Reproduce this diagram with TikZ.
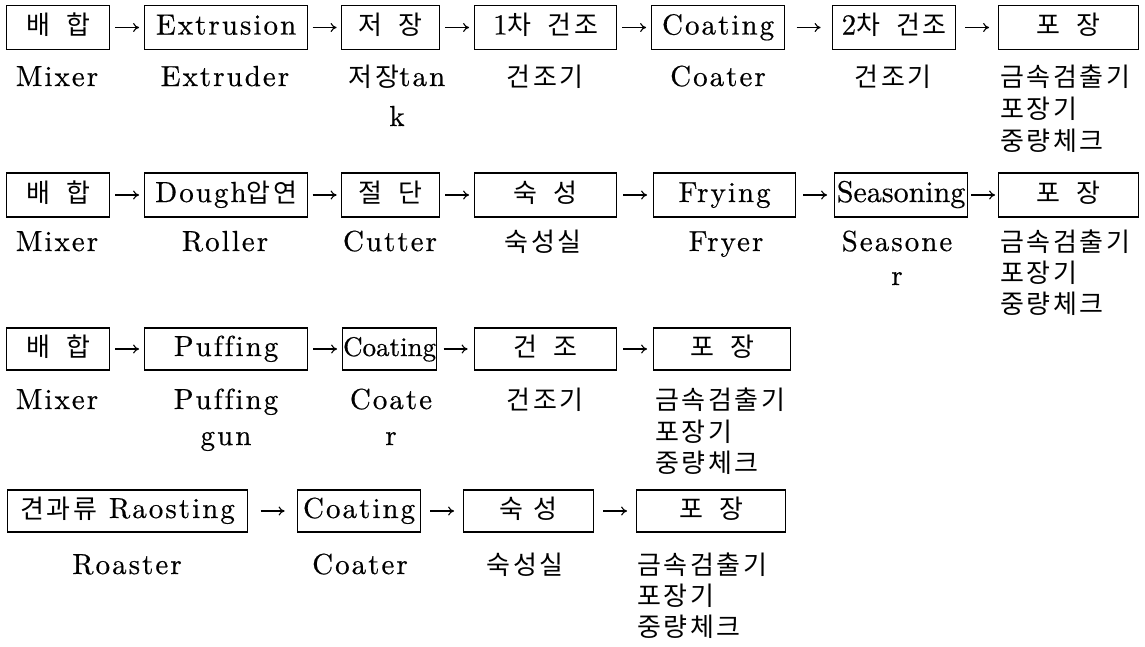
\documentclass[tikz,border=0pt]{standalone}
\usepackage{fontspec}
\usepackage{graphicx}
\usetikzlibrary{arrows.meta,calc}
\newfontfamily\kr{Noto Sans CJK KR}[LetterSpace=10]
\newfontfamily\latn{lmroman10-regular.otf}[LetterSpace=7,Ligatures=NoCommon,FakeBold=0.5]
\newfontfamily\latc{lmroman10-regular.otf}[Ligatures=NoCommon,FakeBold=0.5]
\newcommand\latf{\latn\fontsize{29}{33}\selectfont}
\newcommand\plainf{\fontsize{26}{30}\selectfont}
\newcommand\ksp{\hspace{16pt}}
\begin{document}
\begin{tikzpicture}[x=1pt,y=-1pt,
  box/.style={draw, line width=1.2pt, inner sep=0pt, anchor=west, minimum height=44pt, text height=20pt, text depth=6pt, font=\latf},
  lbl/.style={anchor=base, inner sep=0pt, font=\latf},
  lst/.style={anchor=base west, inner sep=0pt, font=\kr\plainf},
  arr/.style={-{To[length=6pt,width=9pt]}, line width=1.1pt},
  flow/.style={to path={($(\tikztostart)!0.5!(\tikztotarget)+(-12pt,0)$) -- ($(\tikztostart)!0.5!(\tikztotarget)+(12pt,0)$)}}
]
\useasboundingbox (0,0) rectangle (1145,646);

% ---------- Row 1 ----------
\node[box, minimum width=103pt] (a1) at (6,27.5) {\kr\plainf 배\ksp 합};
\node[box, minimum width=163pt] (a2) at (144,27.5) {Extrusion};
\node[box, minimum width=98pt]  (a3) at (341,27.5) {\kr\plainf 저\ksp 장};
\node[box, minimum width=142pt] (a4) at (474,27.5) {1{\kr\plainf 차\ksp 건조}};
\node[box, minimum width=133pt] (a5) at (651,27.5) {Coating};
\node[box, minimum width=123pt] (a6) at (832,27.5) {2{\kr\plainf 차\ksp 건조}};
\node[box, minimum width=140pt] (a7) at (998,27.5) {\kr\plainf 포\ksp 장};
\foreach \p/\q in {a1/a2,a2/a3,a3/a4,a4/a5,a5/a6,a6/a7}
  \draw[arr] (\p.east) to[flow] (\q.west);

\node[lbl] (la1) at (57,86) {Mixer};
\node[lbl] (la2) at (225,86) {Extruder};
\node[lbl] (la3) at (397,86) {{\kr\plainf 저장}tan};
\node[lbl] (la3b) at (397,126) {k};
\node[lbl] (la4) at (545,86) {\kr\plainf 건조기};
\node[lbl] (la5) at (718,86) {Coater};
\node[lbl] (la6) at (893,86) {\kr\plainf 건조기};
\node[lst] (la7) at (1000,86) {금속검출기};
\node[lst] (la7b) at (1000,118) {포장기};
\node[lst] (la7c) at (1000,150) {중량체크};

% ---------- Row 2 ----------
\node[box, minimum width=103pt] (b1) at (6,195) {\kr\plainf 배\ksp 합};
\node[box, minimum width=163pt] (b2) at (144,195) {Dough{\kr\plainf 압연}};
\node[box, minimum width=98pt]  (b3) at (341,195) {\kr\plainf 절\ksp 단};
\node[box, minimum width=142pt] (b4) at (474,195) {\kr\plainf 숙\ksp 성};
\node[box, minimum width=142pt] (b5) at (653,195) {Frying};
\node[box, minimum width=133pt] (b6) at (834,195) {\latc\fontsize{30}{34}\selectfont Seasoning};
\node[box, minimum width=140pt] (b7) at (998,195) {\kr\plainf 포\ksp 장};
\foreach \p/\q in {b1/b2,b2/b3,b3/b4,b4/b5,b5/b6,b6/b7}
  \draw[arr] (\p.east) to[flow] (\q.west);

\node[lbl] (lb1) at (57,251) {Mixer};
\node[lbl] (lb2) at (225,251) {Roller};
\node[lbl] (lb3) at (390,251) {Cutter};
\node[lbl] (lb4) at (543,251) {\kr\plainf 숙성실};
\node[lbl] (lb5) at (726,251) {Fryer};
\node[lbl] (lb6) at (897,251) {Seasone};
\node[lbl] (lb6b) at (897,285) {r};
\node[lst] (lb7) at (1000,251) {금속검출기};
\node[lst] (lb7b) at (1000,282) {포장기};
\node[lst] (lb7c) at (1000,313) {중량체크};

% ---------- Row 3 ----------
\node[box, minimum width=103pt, minimum height=42pt] (c1) at (6,349) {\kr\plainf 배\ksp 합};
\node[box, minimum width=163pt, minimum height=42pt] (c2) at (144,349) {Puffing};
\node[box, minimum width=94pt, minimum height=42pt]  (c3) at (342,349) {\latc\fontsize{27}{30}\selectfont Coating};
\node[box, minimum width=142pt, minimum height=42pt] (c4) at (474,349) {\kr\plainf 건\ksp 조};
\node[box, minimum width=137pt, minimum height=42pt] (c5) at (653,349) {\kr\plainf 포\ksp 장};
\foreach \p/\q in {c1/c2,c2/c3,c3/c4,c4/c5}
  \draw[arr] (\p.east) to[flow] (\q.west);

\node[lbl] (lc1) at (57,409) {Mixer};
\node[lbl] (lc2) at (226,409) {Puffing};
\node[lbl] (lc2b) at (226,445) {gun};
\node[lbl] (lc3) at (391,409) {Coate};
\node[lbl] (lc3b) at (391,445) {r};
\node[lbl] (lc4) at (545,409) {\kr\plainf 건조기};
\node[lst] (lc5) at (655,409) {금속검출기};
\node[lst] (lc5b) at (655,441) {포장기};
\node[lst] (lc5c) at (655,472) {중량체크};

% ---------- Row 4 ----------
\node[box, minimum width=240pt, minimum height=42pt] (d1) at (7,511) {{\kr\plainf 견과류} Raosting};
\node[box, minimum width=123pt, minimum height=42pt] (d2) at (297,511) {Coating};
\node[box, minimum width=130pt, minimum height=42pt] (d3) at (463,511) {\kr\plainf 숙\hspace{10pt}성};
\node[box, minimum width=149pt, minimum height=42pt] (d4) at (636,511) {\kr\plainf 포\ksp 장};
\foreach \p/\q in {d1/d2,d2/d3,d3/d4}
  \draw[arr] (\p.east) to[flow] (\q.west);

\node[lbl] (ld1) at (127,574) {Roaster};
\node[lbl] (ld2) at (360,574) {Coater};
\node[lbl] (ld3) at (525,574) {\kr\plainf 숙성실};
\node[lst] (ld4) at (637,574) {금속검출기};
\node[lst] (ld4b) at (637,605) {포장기};
\node[lst] (ld4c) at (637,636) {중량체크};
\end{tikzpicture}
\end{document}
